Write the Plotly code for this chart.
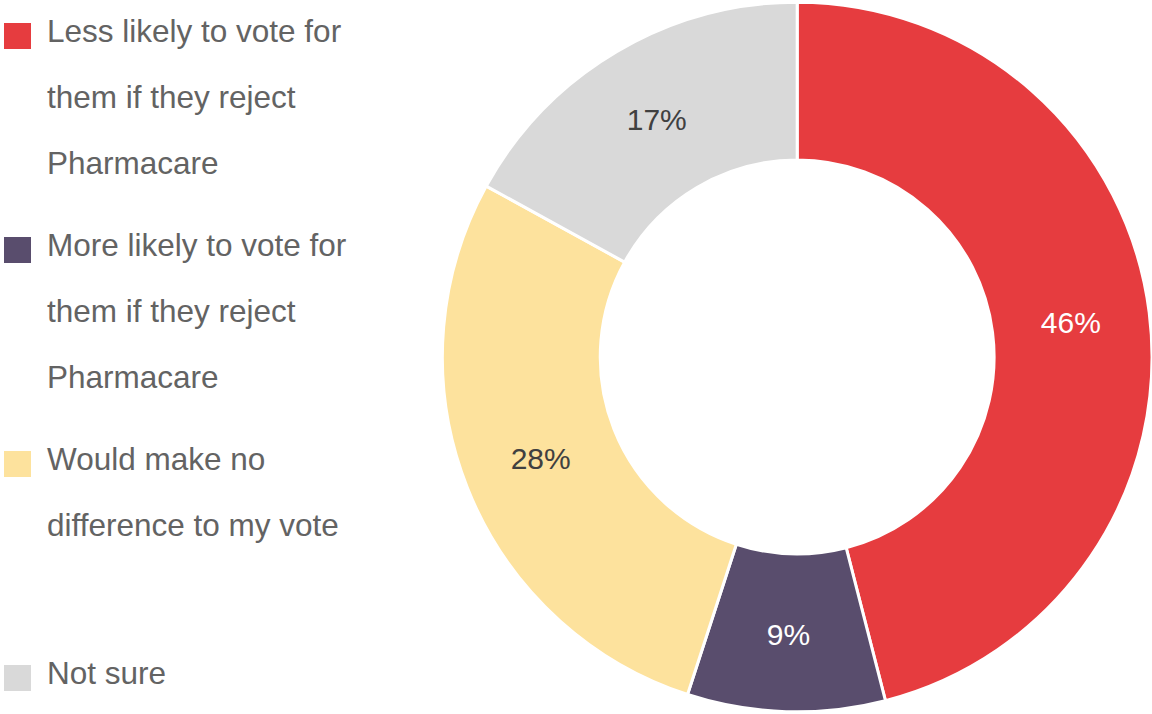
import plotly.graph_objects as go

# Survey responses (percent)
categories = [
    "Less likely to vote for them if they reject Pharmacare",
    "More likely to vote for them if they reject Pharmacare",
    "Would make no difference to my vote",
    "Not sure",
]
values = [46, 9, 28, 17]
legend_lines = [
    ["Less likely to vote for", "them if they reject", "Pharmacare"],
    ["More likely to vote for", "them if they reject", "Pharmacare"],
    ["Would make no", "difference to my vote"],
    ["Not sure"],
]
colors = ["#E63C3F", "#594D6D", "#FDE29D", "#D9D9D9"]
label_colors = ["#FFFFFF", "#FFFFFF", "#404040", "#404040"]

W, H = 1152, 714
FONT = "Liberation Sans, Arial, Helvetica, sans-serif"

fig = go.Figure(
    go.Pie(
        labels=categories,
        values=values,
        sort=False,
        direction="clockwise",
        rotation=0,
        hole=0.555,
        marker=dict(colors=colors, line=dict(color="#FFFFFF", width=3)),
        texttemplate="%{value}%",
        textposition="inside",
        insidetextorientation="horizontal",
        textfont=dict(family=FONT, size=30, color=label_colors),
        domain=dict(x=[0.384, 1.0], y=[0.0, 1.0]),
        showlegend=False,
        hoverinfo="label+percent",
    )
)

# Hand-laid legend: coloured square plus wrapped label lines
item_pitch = 214
line_pitch = 66
first_baseline = 42
shapes = []
annotations = []
for i, (lines, col) in enumerate(zip(legend_lines, colors)):
    base = first_baseline + i * item_pitch
    sq_c = base - 6
    shapes.append(dict(
        type="rect", xref="paper", yref="paper",
        x0=4 / W, x1=31 / W,
        y0=1 - (sq_c + 13) / H, y1=1 - (sq_c - 13) / H,
        fillcolor=col, line=dict(width=0),
    ))
    for j, txt in enumerate(lines):
        b = base + j * line_pitch
        annotations.append(dict(
            text=txt, xref="paper", yref="paper",
            x=45 / W, y=1 - (b - 11) / H,
            xanchor="left", yanchor="middle", showarrow=False,
            font=dict(family=FONT, size=31.5, color="#636363"),
        ))

fig.update_layout(
    width=W, height=H,
    margin=dict(l=0, r=0, t=0, b=0),
    paper_bgcolor="#FFFFFF",
    plot_bgcolor="#FFFFFF",
    shapes=shapes,
    annotations=annotations,
)

fig.write_html("out.html")
